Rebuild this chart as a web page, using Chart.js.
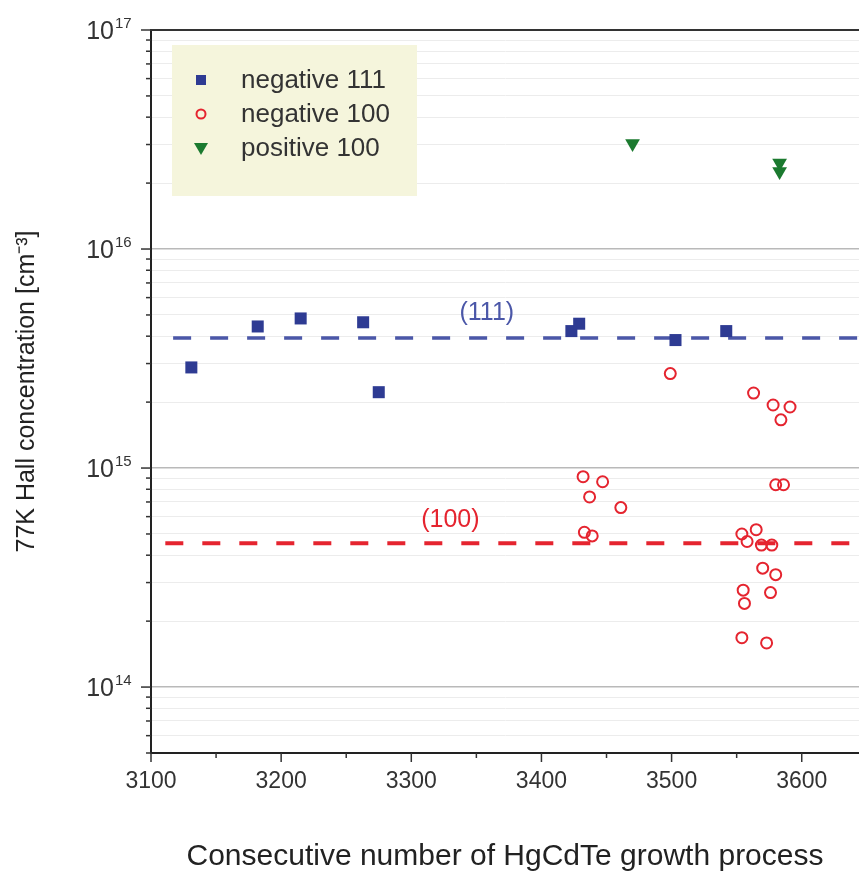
<!DOCTYPE html>
<html>
<head>
<meta charset="utf-8">
<script src="https://cdn.jsdelivr.net/npm/chart.js@4/dist/chart.umd.min.js"></script>
<style>
html,body{margin:0;padding:0;background:#fff;}
#wrap{width:859px;height:872px;position:relative;}
</style>
</head>
<body>
<div id="wrap"><canvas id="c" width="859" height="872"></canvas></div>
<script>
// ---- data ----
const neg111X = [3131, 3182, 3215, 3263, 3275, 3423, 3429, 3503, 3542];
const neg111Y = [2.88e15, 4.43e15, 4.82e15, 4.63e15, 2.22e15, 4.22e15, 4.56e15, 3.84e15, 4.22e15];

const neg100X = [3499, 3563, 3578, 3591, 3584, 3432, 3447, 3437, 3461, 3580, 3586,
                 3433, 3439, 3554, 3565, 3558, 3569, 3577, 3570, 3580, 3555, 3576, 3556, 3554, 3573];
const neg100Y = [2.70e15, 2.20e15, 1.94e15, 1.90e15, 1.66e15, 9.13e14, 8.66e14, 7.38e14, 6.60e14, 8.39e14, 8.39e14,
                 5.09e14, 4.90e14, 5.00e14, 5.23e14, 4.62e14, 4.45e14, 4.45e14, 3.49e14, 3.26e14, 2.77e14, 2.70e14, 2.41e14, 1.68e14, 1.59e14];

const pos100X = [3470, 3583, 3583];
const pos100Y = [3.03e16, 2.47e16, 2.26e16];

const level111 = 3.92e15;   // dashed mean level (111)
const level100 = 4.54e14;   // dashed mean level (100)
const levelStart111 = 3117;
const levelStart100 = 3111;

const seriesNames = ['negative 111', 'negative 100', 'positive 100'];
const xTickLabels = [3100, 3200, 3300, 3400, 3500, 3600];
const yTickExponents = [14, 15, 16, 17];
const X_MIN = 3100, X_MAX = 3644, Y_MIN = 5e13, Y_MAX = 1e17;

const toPts = (xs, ys) => xs.map((x, i) => ({x: x, y: ys[i]}));

const FONT = "'Liberation Sans', Arial, Helvetica, sans-serif";
const BLUE = '#2e3b93', BLUE_LINE = '#4b57a8', RED = '#e5242f', GREEN = '#1b7a2f';

const customPlugin = {
  id: 'custom',
  afterDraw(chart) {
    const {ctx, chartArea: a, scales: {x, y}} = chart;
    ctx.save();
    // top frame line
    ctx.strokeStyle = '#333'; ctx.lineWidth = 2;
    ctx.beginPath(); ctx.moveTo(a.left - 1, a.top); ctx.lineTo(a.right, a.top); ctx.stroke();
    // y tick marks
    ctx.lineWidth = 1.5; ctx.strokeStyle = '#333';
    y.ticks.forEach(t => {
      const py = y.getPixelForValue(t.value);
      const len = t.major ? 10 : 5;
      ctx.beginPath(); ctx.moveTo(a.left - len, py); ctx.lineTo(a.left, py); ctx.stroke();
    });
    // x tick marks
    x.ticks.forEach(t => {
      const px = x.getPixelForValue(t.value);
      const len = xTickLabels.includes(t.value) ? 9 : 5;
      ctx.beginPath(); ctx.moveTo(px, a.bottom); ctx.lineTo(px, a.bottom + len); ctx.stroke();
    });
    // y tick labels 10^n
    ctx.fillStyle = '#333';
    yTickExponents.forEach(e => {
      const py = y.getPixelForValue(Math.pow(10, e));
      ctx.font = '25px ' + FONT; ctx.textAlign = 'right'; ctx.textBaseline = 'alphabetic';
      ctx.fillText('10', a.left - 37, py + 9);
      ctx.font = '15px ' + FONT; ctx.textAlign = 'left';
      ctx.fillText(String(e), a.left - 36, py - 2);
    });
    // level annotations
    ctx.font = '25px ' + FONT; ctx.textAlign = 'center'; ctx.textBaseline = 'middle';
    ctx.fillStyle = BLUE_LINE;
    ctx.fillText('(111)', x.getPixelForValue(3358), y.getPixelForValue(5.1e15));
    ctx.fillStyle = RED;
    ctx.fillText('(100)', x.getPixelForValue(3330), y.getPixelForValue(5.8e14));
    // legend
    const lx = a.left + 21, ly = a.top + 15, lw = 245, lh = 151;
    ctx.fillStyle = '#f5f5dc'; ctx.fillRect(lx, ly, lw, lh);
    const mx = lx + 29, tx = lx + 69;
    const rows = [ly + 35, ly + 69, ly + 103];
    ctx.fillStyle = BLUE; ctx.fillRect(mx - 5, rows[0] - 5, 10, 10);
    ctx.strokeStyle = RED; ctx.lineWidth = 2;
    ctx.beginPath(); ctx.arc(mx, rows[1], 4.5, 0, Math.PI * 2); ctx.stroke();
    ctx.fillStyle = GREEN;
    ctx.beginPath(); ctx.moveTo(mx - 7, rows[2] - 5); ctx.lineTo(mx + 7, rows[2] - 5); ctx.lineTo(mx, rows[2] + 7); ctx.closePath(); ctx.fill();
    ctx.fillStyle = '#333'; ctx.font = '26px ' + FONT; ctx.textAlign = 'left'; ctx.textBaseline = 'middle';
    seriesNames.forEach((n, i) => ctx.fillText(n, tx, rows[i] + 1));
    ctx.restore();
  }
};

new Chart(document.getElementById('c'), {
  type: 'scatter',
  data: {
    datasets: [
      {label: seriesNames[0], data: toPts(neg111X, neg111Y), pointStyle: 'rect', pointRadius: 8.5,
       backgroundColor: BLUE, borderColor: BLUE, borderWidth: 0, order: 0},
      {label: seriesNames[1], data: toPts(neg100X, neg100Y), pointStyle: 'circle', pointRadius: 5.5,
       backgroundColor: 'rgba(0,0,0,0)', borderColor: RED, borderWidth: 2, order: 0},
      {label: seriesNames[2], data: toPts(pos100X, pos100Y), pointStyle: 'triangle', rotation: 180, pointRadius: 8.5,
       backgroundColor: GREEN, borderColor: GREEN, borderWidth: 0, order: 0},
      {type: 'line', label: '(111)', data: [{x: levelStart111, y: level111}, {x: X_MAX, y: level111}],
       borderColor: BLUE_LINE, borderWidth: 3.5, borderDash: [18, 19], pointRadius: 0, fill: false, order: 10},
      {type: 'line', label: '(100)', data: [{x: levelStart100, y: level100}, {x: X_MAX, y: level100}],
       borderColor: RED, borderWidth: 4, borderDash: [18, 19], pointRadius: 0, fill: false, order: 10}
    ]
  },
  options: {
    responsive: false,
    animation: false,
    devicePixelRatio: 1,
    layout: {autoPadding: false, padding: {top: 30, right: 0, left: 0, bottom: 0}},
    plugins: {legend: {display: false}, tooltip: {enabled: false}},
    scales: {
      x: {
        type: 'linear', min: X_MIN, max: X_MAX,
        afterFit: s => { s.height = 119; s.paddingLeft = 0; s.paddingRight = 0; },
        grid: {drawOnChartArea: false, drawTicks: false},
        border: {display: true, color: '#222', width: 2},
        ticks: {stepSize: 50, includeBounds: false, autoSkip: false, maxRotation: 0, padding: 17,
                color: '#333', font: {family: FONT, size: 23, lineHeight: 1},
                callback: v => xTickLabels.includes(v) ? String(v) : ''},
        title: {display: true, text: 'Consecutive number of HgCdTe growth process', color: '#222',
                font: {family: FONT, size: 30, lineHeight: 1}, padding: {top: 0, bottom: 0}}
      },
      y: {
        type: 'logarithmic', min: Y_MIN, max: Y_MAX,
        afterFit: s => { s.width = 151; s.paddingTop = 0; s.paddingBottom = 0; },
        afterBuildTicks: s => {
          const t = [];
          for (let e = 13; e <= 16; e++) {
            for (let m = 1; m <= 9; m++) {
              const v = m * Math.pow(10, e);
              if (v >= Y_MIN && v <= Y_MAX) t.push({value: v, major: m === 1});
            }
          }
          t.push({value: Y_MAX, major: true});
          s.ticks = t;
        },
        grid: {drawTicks: false,
               color: c => (c.tick && c.tick.major) ? '#b9b9b9' : '#ececec',
               lineWidth: c => (c.tick && c.tick.major) ? 1.5 : 1},
        border: {display: true, color: '#222', width: 2},
        ticks: {display: false},
        title: {display: true, text: '77K Hall concentration [cm\u207B\u00B3]', color: '#222',
                font: {family: FONT, size: 25, lineHeight: 1}, padding: {top: 15, bottom: 0}}
      }
    }
  },
  plugins: [customPlugin]
});
</script>
</body>
</html>
